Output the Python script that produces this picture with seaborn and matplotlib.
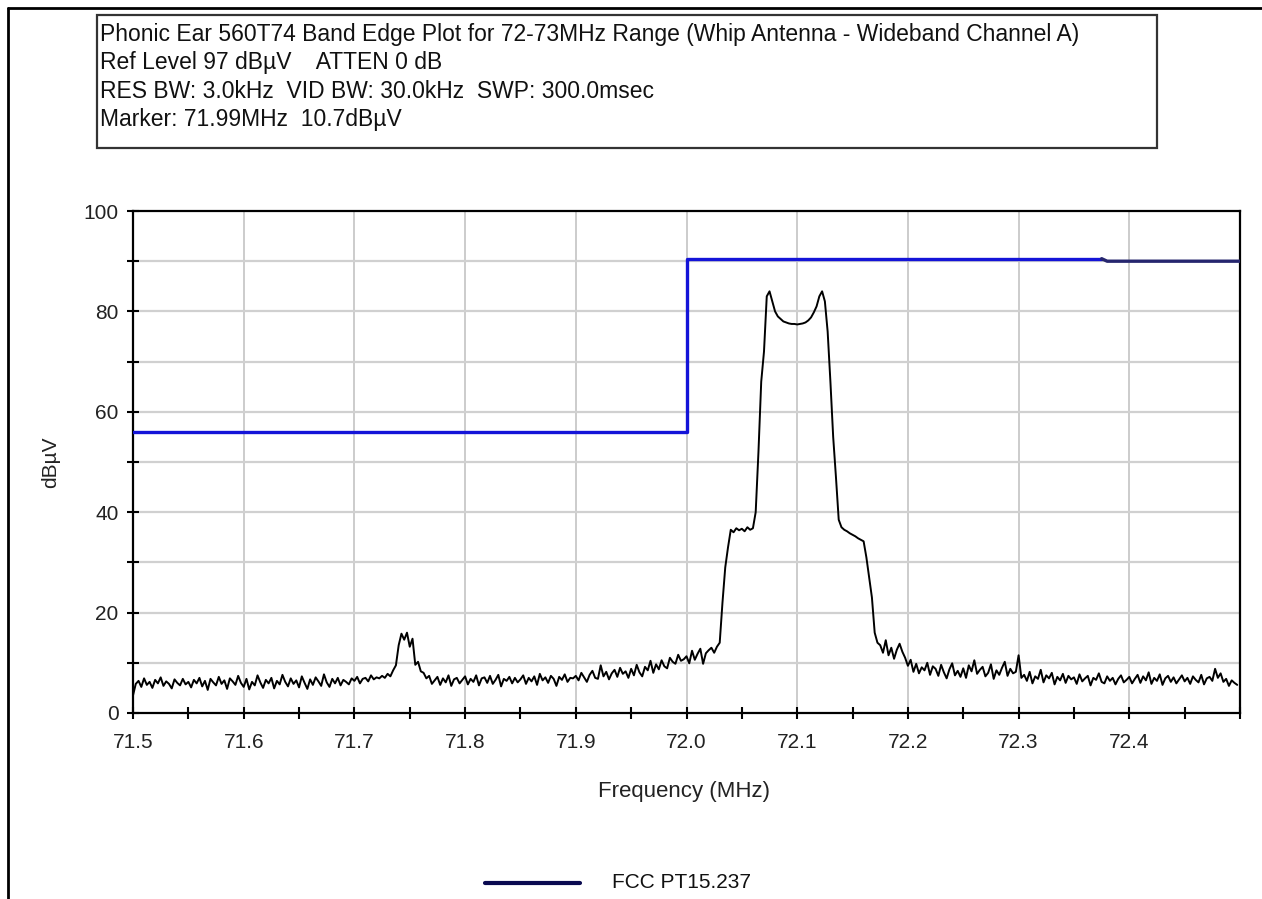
import numpy as np
import pandas as pd
import matplotlib
matplotlib.use('Agg')
import matplotlib.pyplot as plt
import seaborn as sns
from matplotlib.patches import Rectangle
from matplotlib.lines import Line2D
from matplotlib.ticker import MultipleLocator

sns.set_theme(style='white')
plt.rcParams['font.family'] = ['Liberation Sans', 'DejaVu Sans']

# sweep definition (MHz)
FREQ_START = 71.5
FREQ_STEP = 0.0025

# measured trace (dBuV), 20 points per 0.05 MHz
TRACE_LEVEL = [
    3.5, 5.8, 6.4, 5.2, 6.9, 5.6, 6.2, 5.0, 6.6, 5.9, 7.1, 5.4, 6.3, 5.8, 4.9, 6.7, 6.0, 5.5, 6.8, 5.7,
    6.2, 5.1, 6.6, 5.9, 7.0, 5.3, 6.4, 4.6, 6.8, 6.1, 5.5, 7.2, 5.8, 6.5, 4.8, 6.9, 6.3, 5.6, 7.4, 6.0,
    5.2, 6.8, 4.7, 6.2, 5.5, 7.5, 6.1, 5.0, 6.6, 5.9, 7.0, 4.9, 6.4, 5.7, 7.6, 6.2, 5.3, 6.9, 5.8, 6.5,
    5.1, 7.3, 6.0, 4.8, 6.7, 5.6, 7.1, 6.3, 5.4, 7.7, 6.1, 5.2, 6.8, 5.9, 7.0, 5.5, 6.6, 6.2, 5.7, 6.9,
    6.4, 7.2, 5.9, 6.8, 7.0, 6.3, 7.5, 6.7, 7.1, 6.9, 7.4, 7.0, 7.8, 7.3, 8.5, 9.5, 13.5, 15.8, 14.6, 16.0,
    13.2, 14.8, 9.6, 10.2, 8.3, 8.0, 6.9, 7.4, 5.8, 6.5, 7.2, 5.6, 6.9, 6.1, 7.5, 5.4, 6.7, 7.0, 5.9, 6.6,
    7.3, 5.7, 6.8, 6.2, 7.5, 5.5, 6.9, 7.1, 6.0, 7.4, 5.8, 6.6, 7.6, 5.3, 6.8, 6.4, 7.2, 5.9, 7.0, 6.1,
    6.7, 7.5, 5.8, 7.0, 6.3, 7.3, 5.6, 7.8, 6.5, 7.1, 6.0, 7.4, 6.8, 5.4, 7.2, 6.6, 7.7, 6.2, 7.0, 6.9,
    7.4, 6.5, 8.0, 7.1, 6.2, 7.6, 8.4, 7.0, 6.8, 9.5, 7.3, 8.2, 6.7, 7.9, 8.6, 7.2, 9.0, 7.8, 8.3, 7.0,
    8.8, 7.5, 9.6, 8.1, 7.3, 9.2, 8.5, 10.4, 8.0, 9.7, 8.7, 10.5, 9.3, 8.9, 11.0, 10.2, 9.8, 11.6, 10.4, 10.7,
    11.3, 9.9, 12.4, 10.6, 11.8, 12.8, 9.8, 11.9, 12.5, 13.0, 12.0, 13.2, 14.0, 22.0, 29.0, 33.0, 36.5, 36.0, 36.8, 36.4,
    36.7, 36.2, 37.0, 36.5, 36.8, 40.0, 52.0, 66.0, 72.0, 83.0, 84.0, 82.0, 80.0, 79.0, 78.5, 78.0, 77.8, 77.6, 77.5, 77.5,
    77.4, 77.5, 77.6, 77.8, 78.2, 78.8, 79.8, 81.0, 83.0, 84.0, 82.0, 76.0, 66.0, 55.0, 47.0, 38.5, 37.0, 36.5, 36.2, 35.8,
    35.5, 35.2, 34.8, 34.5, 34.2, 31.0, 27.0, 23.0, 16.0, 14.0, 13.5, 12.0, 14.5, 11.5, 13.0, 10.8, 12.6, 13.8, 12.2, 11.0,
    9.4, 10.6, 8.2, 9.8, 7.9, 9.1, 8.5, 10.0, 7.6, 9.3, 8.8, 7.4, 9.6, 8.1, 6.9, 8.7, 9.9, 7.5, 8.4, 7.2,
    8.9, 7.0, 9.5, 8.3, 10.5, 7.8, 8.6, 9.2, 7.3, 8.0, 9.7, 6.8, 8.5, 7.6, 9.0, 10.2, 7.4, 8.8, 7.9, 8.2,
    11.5, 7.0, 7.6, 6.4, 8.2, 5.9, 7.3, 6.8, 8.6, 6.1, 7.5, 6.9, 8.0, 5.7, 7.2, 6.5, 7.8, 6.0, 7.4, 6.7,
    7.1, 5.8, 7.7, 6.3, 6.9, 7.4, 5.5, 7.0, 6.6, 7.9, 6.2, 5.9, 7.3, 6.4, 7.0, 5.7, 6.8, 7.5, 6.1, 6.6,
    7.2, 5.9, 6.8, 7.6, 6.0, 7.3, 6.5, 8.1, 5.8, 7.0, 6.4, 7.7, 5.6, 6.9, 7.4, 6.2, 7.1, 5.9, 6.7, 7.5,
    6.3, 7.0, 5.8, 7.3, 6.6, 6.1, 7.6, 5.7, 6.9, 7.2, 6.4, 8.8, 7.0, 7.9, 6.2, 6.8, 5.4, 6.5, 6.0, 5.6,
]

# FCC PT15.237 limit
LIMIT_FREQ = [71.5, 72.0, 72.0, 72.375]
LIMIT_LEVEL = [56.0, 56.0, 90.5, 90.5]
LIMIT_TAIL_FREQ = [72.375, 72.38, 72.5]
LIMIT_TAIL_LEVEL = [90.5, 90.0, 90.0]

HEADER_LINES = [
    'Phonic Ear 560T74 Band Edge Plot for 72-73MHz Range (Whip Antenna - Wideband Channel A)',
    'Ref Level 97 dBµV    ATTEN 0 dB',
    'RES BW: 3.0kHz  VID BW: 30.0kHz  SWP: 300.0msec',
    'Marker: 71.99MHz  10.7dBµV',
]
X_TICKS = [71.5, 71.6, 71.7, 71.8, 71.9, 72.0, 72.1, 72.2, 72.3, 72.4]
Y_TICKS = [0, 20, 40, 60, 80, 100]
LEGEND_LABEL = 'FCC PT15.237'

trace = pd.DataFrame({
    'freq': FREQ_START + FREQ_STEP * np.arange(len(TRACE_LEVEL)),
    'level': TRACE_LEVEL,
})
limit = pd.DataFrame({'freq': LIMIT_FREQ, 'level': LIMIT_LEVEL})
limit_tail = pd.DataFrame({'freq': LIMIT_TAIL_FREQ, 'level': LIMIT_TAIL_LEVEL})

fig = plt.figure(figsize=(12.62, 8.99), dpi=100)
W, H = 1262, 899
ax = fig.add_axes([133 / W, 1 - 713 / H, 1107 / W, 502 / H])

# grid
for x in X_TICKS:
    ax.axvline(x, color='#c4c4c4', linewidth=1.2, zorder=0)
for y in range(10, 100, 10):
    ax.axhline(y, color='#d0d0d0', linewidth=1.6, zorder=0)

sns.lineplot(data=trace, x='freq', y='level', ax=ax, color='black',
             linewidth=1.4, sort=False, estimator=None, zorder=3)
sns.lineplot(data=limit, x='freq', y='level', ax=ax, color='#1414d8',
             linewidth=2.4, sort=False, estimator=None, zorder=4)
sns.lineplot(data=limit_tail, x='freq', y='level', ax=ax, color='#26266e',
             linewidth=2.4, sort=False, estimator=None, zorder=4)

ax.set_xlim(71.5, 72.5)
ax.set_ylim(0, 100)
ax.set_xticks(X_TICKS)
ax.set_xticklabels([f'{v:.1f}' for v in X_TICKS])
ax.xaxis.set_minor_locator(MultipleLocator(0.05))
ax.set_yticks(Y_TICKS)
ax.yaxis.set_minor_locator(MultipleLocator(10))
ax.tick_params(which='both', direction='inout', length=9, width=1.5,
               color='black', labelsize=15, labelcolor='#222222')
ax.tick_params(axis='x', which='both', pad=10, top=False, bottom=True)
ax.tick_params(axis='y', which='both', pad=6, left=True, right=False)
for s in ax.spines.values():
    s.set_color('black')
    s.set_linewidth(1.6)

ax.set_xlabel('Frequency (MHz)', fontsize=16, color='#222222')
ax.set_ylabel('dBµV', fontsize=15, color='#222222')
ax.xaxis.set_label_coords(0.498, -0.136)
ax.yaxis.set_label_coords(-0.066, 0.5)

# header box
fig.patches.append(Rectangle((97 / W, 1 - 148 / H), 1060 / W, 133 / H,
                             transform=fig.transFigure, facecolor='white',
                             edgecolor='#333333', linewidth=1.6))
for i, line in enumerate(HEADER_LINES):
    fig.text(100 / W, 1 - (34 + i * 28.5) / H, line, fontsize=16.5,
             color='#111111', va='center', ha='left')

# legend
fig.add_artist(Line2D([485 / W, 580 / W], [1 - 883 / H, 1 - 883 / H],
                      transform=fig.transFigure, color='#0a0a50', linewidth=3))
fig.text(612 / W, 1 - 883 / H, LEGEND_LABEL, fontsize=15, color='#111111',
         va='center', ha='left')

# outer frame
fig.add_artist(Line2D([8 / W, 1.0], [1 - 8 / H, 1 - 8 / H],
                      transform=fig.transFigure, color='black', linewidth=2))
fig.add_artist(Line2D([8 / W, 8 / W], [0, 1 - 8 / H],
                      transform=fig.transFigure, color='black', linewidth=2))

fig.savefig('out.png', dpi=100)
plt.close(fig)
